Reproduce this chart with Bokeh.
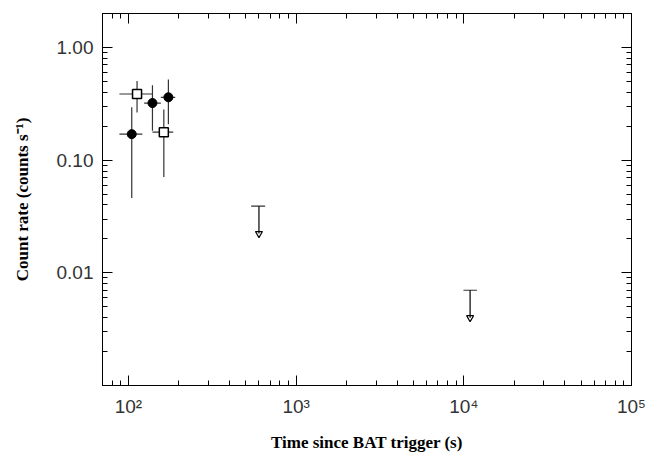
from bokeh.plotting import figure
from bokeh.models import LogAxis, FixedTicker, Range1d, ColumnDataSource
from bokeh.embed import file_html
from bokeh.resources import INLINE

# ---- data ----
circ_t = [104.6, 139.0, 173.0]
circ_t_lo = [88.3, 124.0, 156.0]
circ_t_hi = [121.0, 156.0, 190.0]
circ_rate = [0.170, 0.321, 0.361]
circ_rate_lo = [0.046, 0.182, 0.208]
circ_rate_hi = [0.294, 0.461, 0.518]

sq_t = [112.5, 162.5]
sq_t_lo = [88.3, 139.0]
sq_t_hi = [139.7, 185.0]
sq_rate = [0.386, 0.177]
sq_rate_lo = [0.264, 0.071]
sq_rate_hi = [0.503, 0.281]

ul_t = [600.0, 10900.0]
ul_t_lo = [539.0, 9950.0]
ul_t_hi = [653.0, 11970.0]
ul_rate = [0.039, 0.0070]
ARROW_FACTOR = 1.75

x_major = [100, 1000, 10000, 100000]
x_labels = ["10\u00b2", "10\u00b3", "10\u2074", "10\u2075"]
y_major = [0.01, 0.1, 1]
y_labels = ["0.01", "0.10", "1.00"]

x_minor = [m * 10 ** e for e in range(1, 5) for m in range(2, 10)]
y_minor = [m * 10.0 ** e for e in range(-3, 1) for m in range(2, 10)]

p = figure(width=651, height=454, x_axis_type="log", y_axis_type="log",
           x_range=Range1d(70, 1e5), y_range=Range1d(0.001, 2.0),
           output_backend="svg", toolbar_location=None,
           min_border_left=102, min_border_right=20,
           min_border_top=13, min_border_bottom=66)
p.xgrid.visible = False
p.ygrid.visible = False
p.outline_line_color = "black"
p.outline_line_width = 1
p.background_fill_color = "white"
p.border_fill_color = "white"

bottom = p.below[0]
left = p.left[0]

xt = FixedTicker(ticks=x_major, minor_ticks=x_minor)
yt = FixedTicker(ticks=y_major, minor_ticks=y_minor)

bottom.ticker = xt
left.ticker = yt
bottom.major_label_overrides = dict(zip(x_major, x_labels))
left.major_label_overrides = dict(zip(y_major, y_labels))

top = LogAxis(ticker=FixedTicker(ticks=x_major, minor_ticks=x_minor),
              major_label_text_font_size="1px", major_label_text_color=None,
              major_label_standoff=0)
right = LogAxis(ticker=FixedTicker(ticks=y_major, minor_ticks=y_minor),
                major_label_text_font_size="1px", major_label_text_color=None,
                major_label_standoff=0)
p.add_layout(top, "above")
p.add_layout(right, "right")

for ax in [bottom, left, top, right]:
    ax.major_tick_in = 10
    ax.major_tick_out = 0
    ax.minor_tick_in = 5
    ax.minor_tick_out = 0
    ax.axis_line_color = "black"
    ax.major_tick_line_color = "black"
    ax.minor_tick_line_color = "black"

for ax in [bottom, left]:
    ax.major_label_text_font = "Liberation Sans"
    ax.major_label_text_font_size = "19px"
    ax.major_label_text_color = "#333333"
    ax.axis_label_text_font = "Liberation Serif"
    ax.axis_label_text_font_style = "bold"
    ax.axis_label_text_font_size = "17px"
    ax.axis_label_text_color = "black"

bottom.axis_label = "Time since BAT trigger (s)"
bottom.major_label_standoff = 10
bottom.axis_label_standoff = 13
left.axis_label = "Count rate (counts s\u207b\u00b9)"
left.major_label_standoff = 9
left.axis_label_standoff = 22

bar_color = "#333333"

cs = ColumnDataSource(dict(t=circ_t, tlo=circ_t_lo, thi=circ_t_hi,
                           r=circ_rate, rlo=circ_rate_lo, rhi=circ_rate_hi))
ss = ColumnDataSource(dict(t=sq_t, tlo=sq_t_lo, thi=sq_t_hi,
                           r=sq_rate, rlo=sq_rate_lo, rhi=sq_rate_hi))
us = ColumnDataSource(dict(t=ul_t, tlo=ul_t_lo, thi=ul_t_hi, r=ul_rate,
                           rend=[v / ARROW_FACTOR for v in ul_rate]))

for src in (cs, ss):
    p.segment(x0="t", y0="rlo", x1="t", y1="rhi", source=src,
              line_color=bar_color, line_width=1.2)
    p.segment(x0="tlo", y0="r", x1="thi", y1="r", source=src,
              line_color=bar_color, line_width=1.2)

p.scatter(x="t", y="r", source=cs, marker="circle", size=9,
          fill_color="black", line_color="black")
p.scatter(x="t", y="r", source=ss, marker="square", size=9,
          fill_color="white", line_color="black", line_width=1.5)

# upper limits: bar + downward arrow
p.segment(x0="tlo", y0="r", x1="thi", y1="r", source=us,
          line_color=bar_color, line_width=1.2)
p.segment(x0="t", y0="r", x1="t", y1="rend", source=us,
          line_color="black", line_width=1.2)
p.scatter(x="t", y="rend", source=us, marker="inverted_triangle", size=7,
          fill_color=None, line_color="black", line_width=1.2)

open("out.html", "w").write(file_html(p, INLINE))
